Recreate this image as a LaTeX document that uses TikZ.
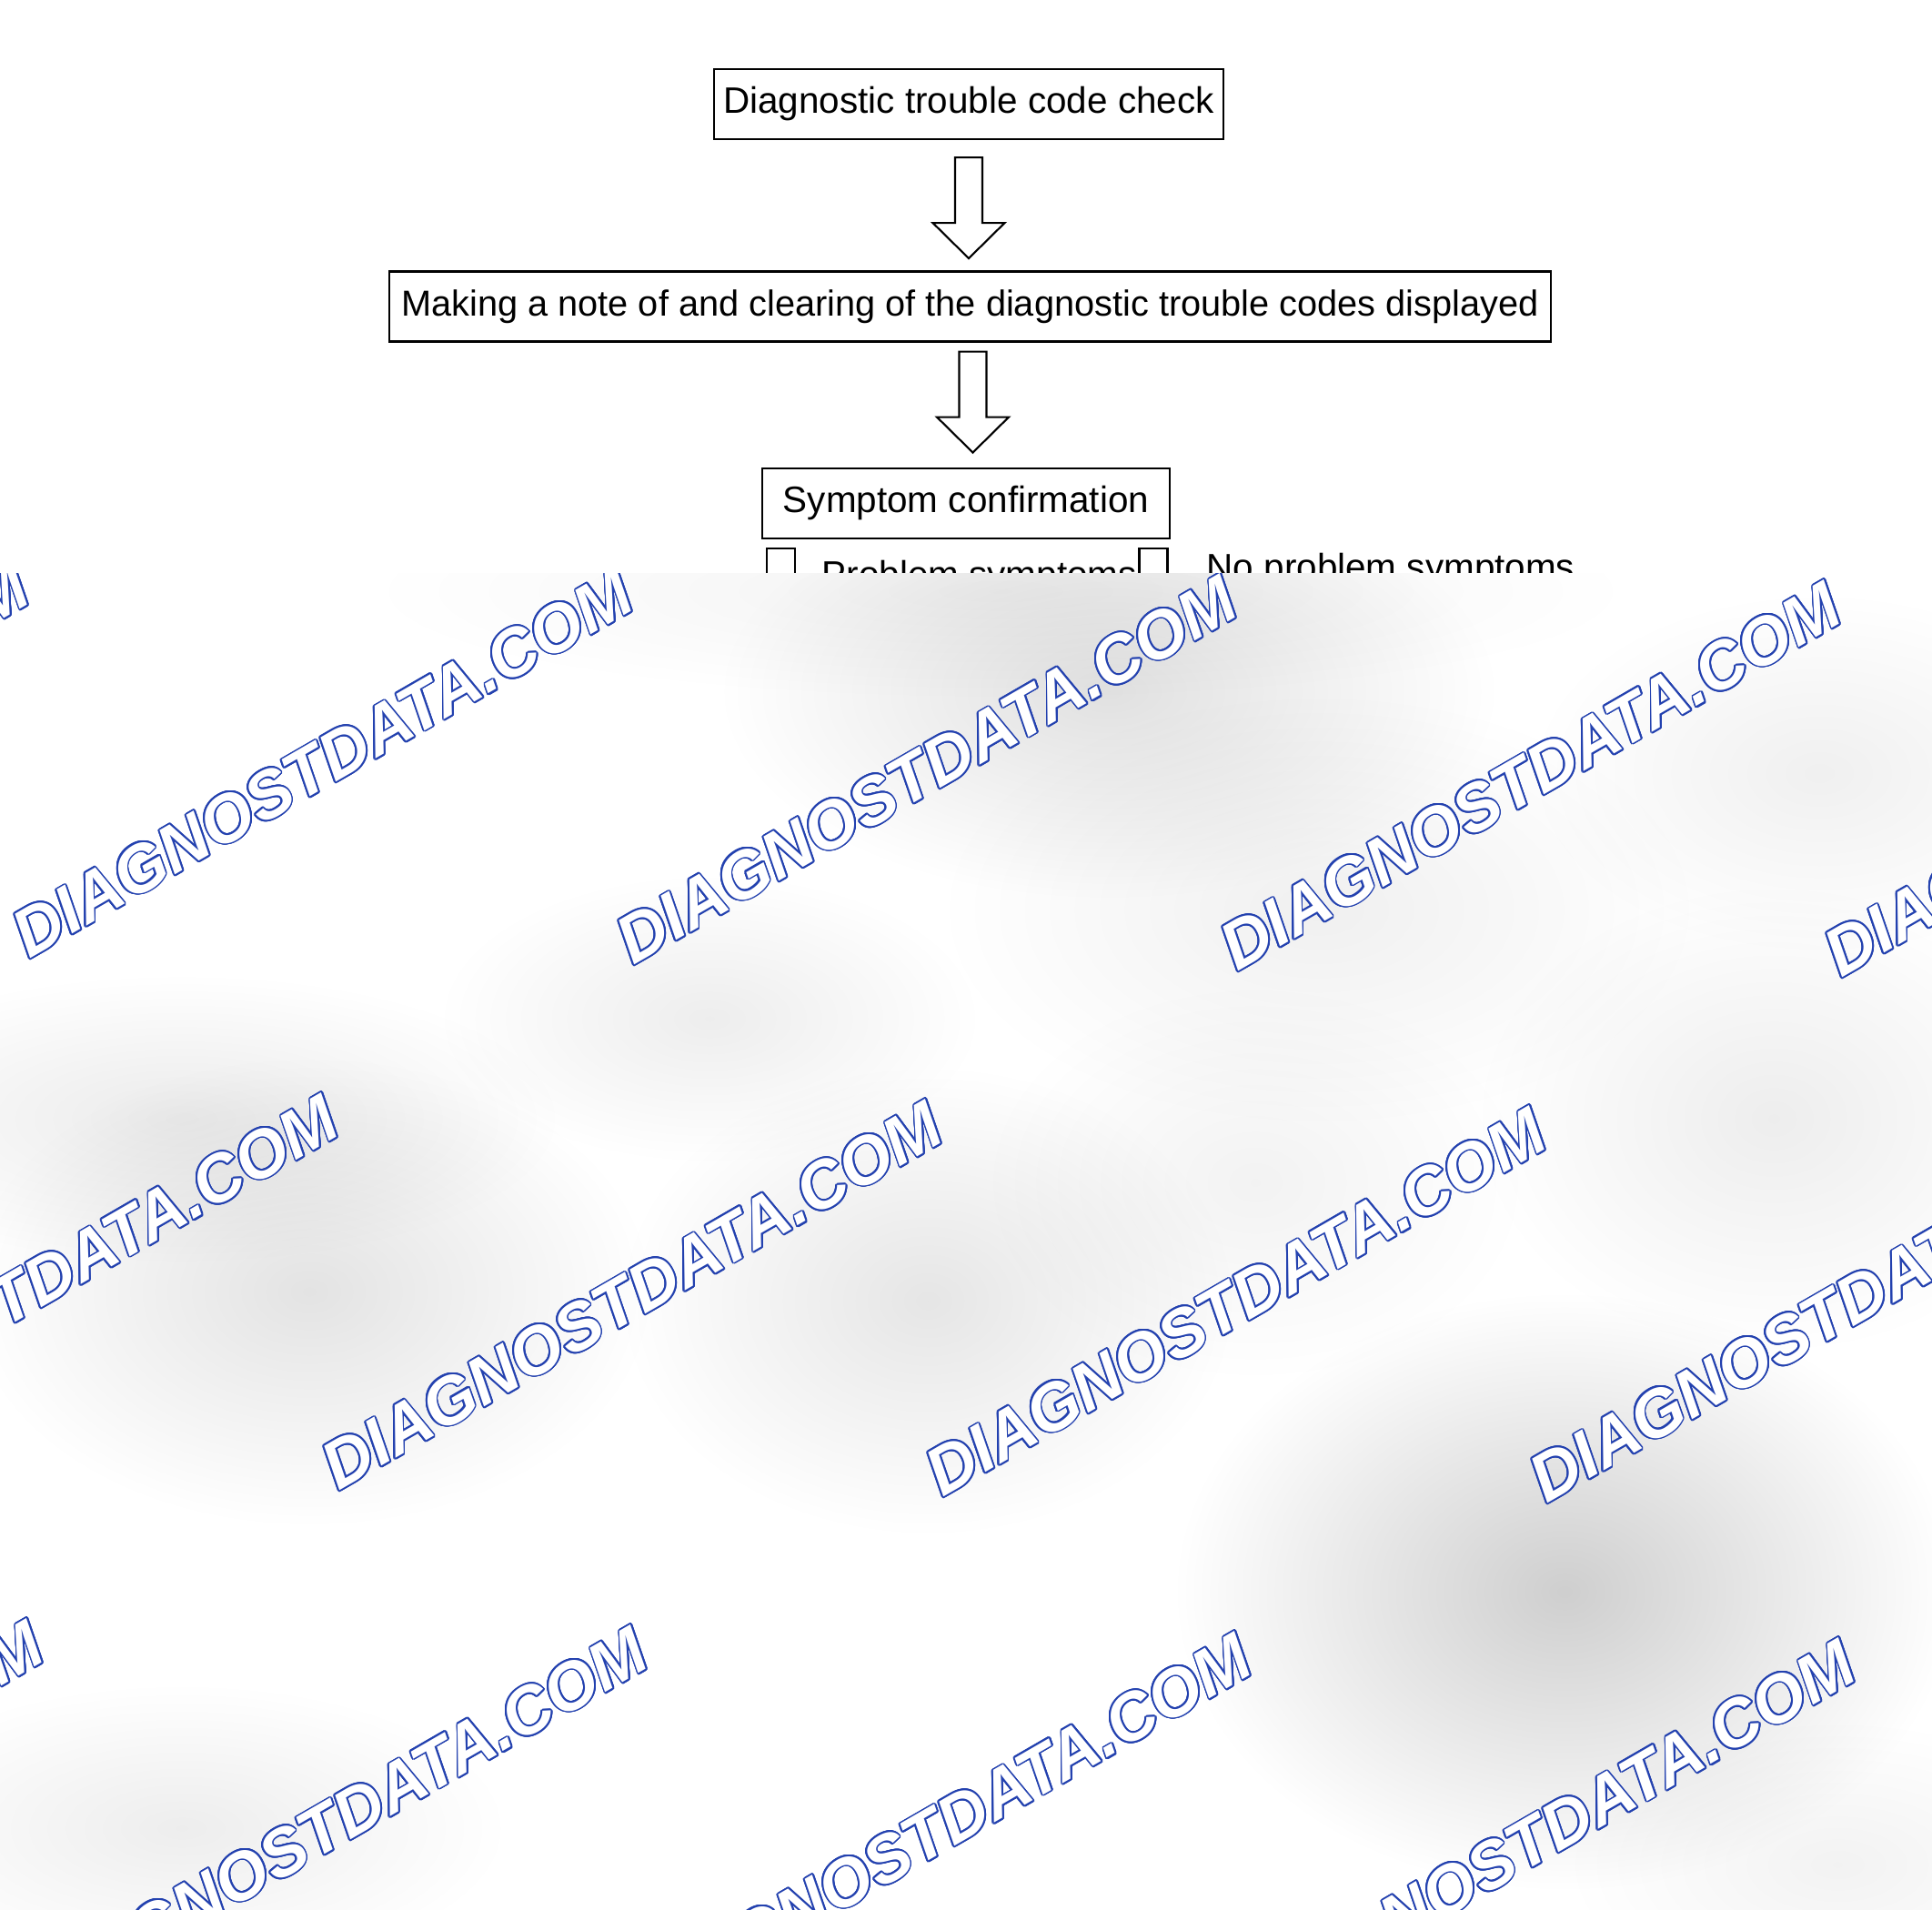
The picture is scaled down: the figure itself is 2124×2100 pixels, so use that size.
\documentclass[tikz,border=0pt]{standalone}
\usepackage{fontspec}
\setmainfont{Liberation Sans}
\usepackage[copies]{contour}
\usetikzlibrary{calc}

\contourlength{0.5pt}
\contournumber{20}
\definecolor{wmblue}{RGB}{35,65,175}

\tikzset{
	stepbox/.style={draw,line width=0.6pt,inner xsep=0,inner ysep=0,minimum height=0.77cm,font=\fontsize{11.5pt}{14pt}\selectfont},
	hollow/.style={draw,line width=0.6pt,fill=white,line join=miter},
	tickbox/.style={draw,line width=0.6pt,inner sep=0,minimum width=0.31cm,minimum height=0.4cm},
	plain/.style={inner sep=0,anchor=base west,font=\fontsize{11.5pt}{14pt}\selectfont},
	wmark/.style={rotate=30,inner sep=0,text=white,font=\fontsize{20.9pt}{24pt}\selectfont\bfseries\itshape}
}

\begin{document}
\begin{tikzpicture}[x=0.01cm,y=-0.01cm]
	\useasboundingbox (0,0) rectangle (2124,2100);
	\fill[white] (0,0) rectangle (2124,2100);
	% flowchart
	\node[stepbox,minimum width=5.6cm] (chk) at (1065,114.5) {Diagnostic trouble code check};
	\node[stepbox,minimum width=12.77cm,font=\fontsize{11.3pt}{14pt}\selectfont] (note) at (1066.5,337) {Making a note of and clearing of the diagnostic trouble codes displayed};
	\node[stepbox,minimum width=4.48cm] (symp) at (1062,553.5) {Symptom confirmation};
	\draw[hollow] ($(chk.south)+(-15,19)$) -- ++(0,72) -- ++(-24.5,0) -- ++(39.5,39) -- ++(39.5,-39) -- ++(-24.5,0) -- ++(0,-72) -- cycle;
	\draw[hollow] ($(note.south)+(-12,10)$) -- ++(0,72) -- ++(-24.5,0) -- ++(39.5,39) -- ++(39.5,-39) -- ++(-24.5,0) -- ++(0,-72) -- cycle;
	\node[tickbox] (pbox1) at (858.5,623) {};
	\node[tickbox] (pbox2) at (1268,623) {};
	\node[plain] (prob) at (903,645) {Problem symptoms};
	\node[plain] (noprob) at (1326,637) {No problem symptoms};
	% overlay with watermarks
	\begin{scope}
		\clip (0,630) rectangle (2124,2100);
		\fill[white] (0,630) rectangle (2124,2100);
		\begin{scope}[blend mode=multiply]
			\foreach \cx/\cy/\rx/\ry/\g in {1219/760/430/230/12,780/1120/300/160/7,200/1230/420/160/8,340/1420/380/260/11,1020/1430/340/260/10,1720/1750/430/330/19,1950/1230/330/260/7,1380/1300/300/220/5,200/2010/360/160/7,2020/2050/300/160/5,1450/1000/420/240/6,2000/850/320/200/6,1100/650/700/120/5}
				\shade[inner color=black!\g,outer color=white] (\cx,\cy) ellipse [x radius=\rx,y radius=\ry];
		\end{scope}
		\foreach \j in {0,1,2}
			\foreach \i in {-2,...,3}
				\node[wmark] (wm\j\i) at ({355+664*\i+340*\j},{840+7*\i+585*\j}) {\contour{wmblue}{DIAGNOSTDATA.COM}};
	\end{scope}
\end{tikzpicture}
\end{document}
